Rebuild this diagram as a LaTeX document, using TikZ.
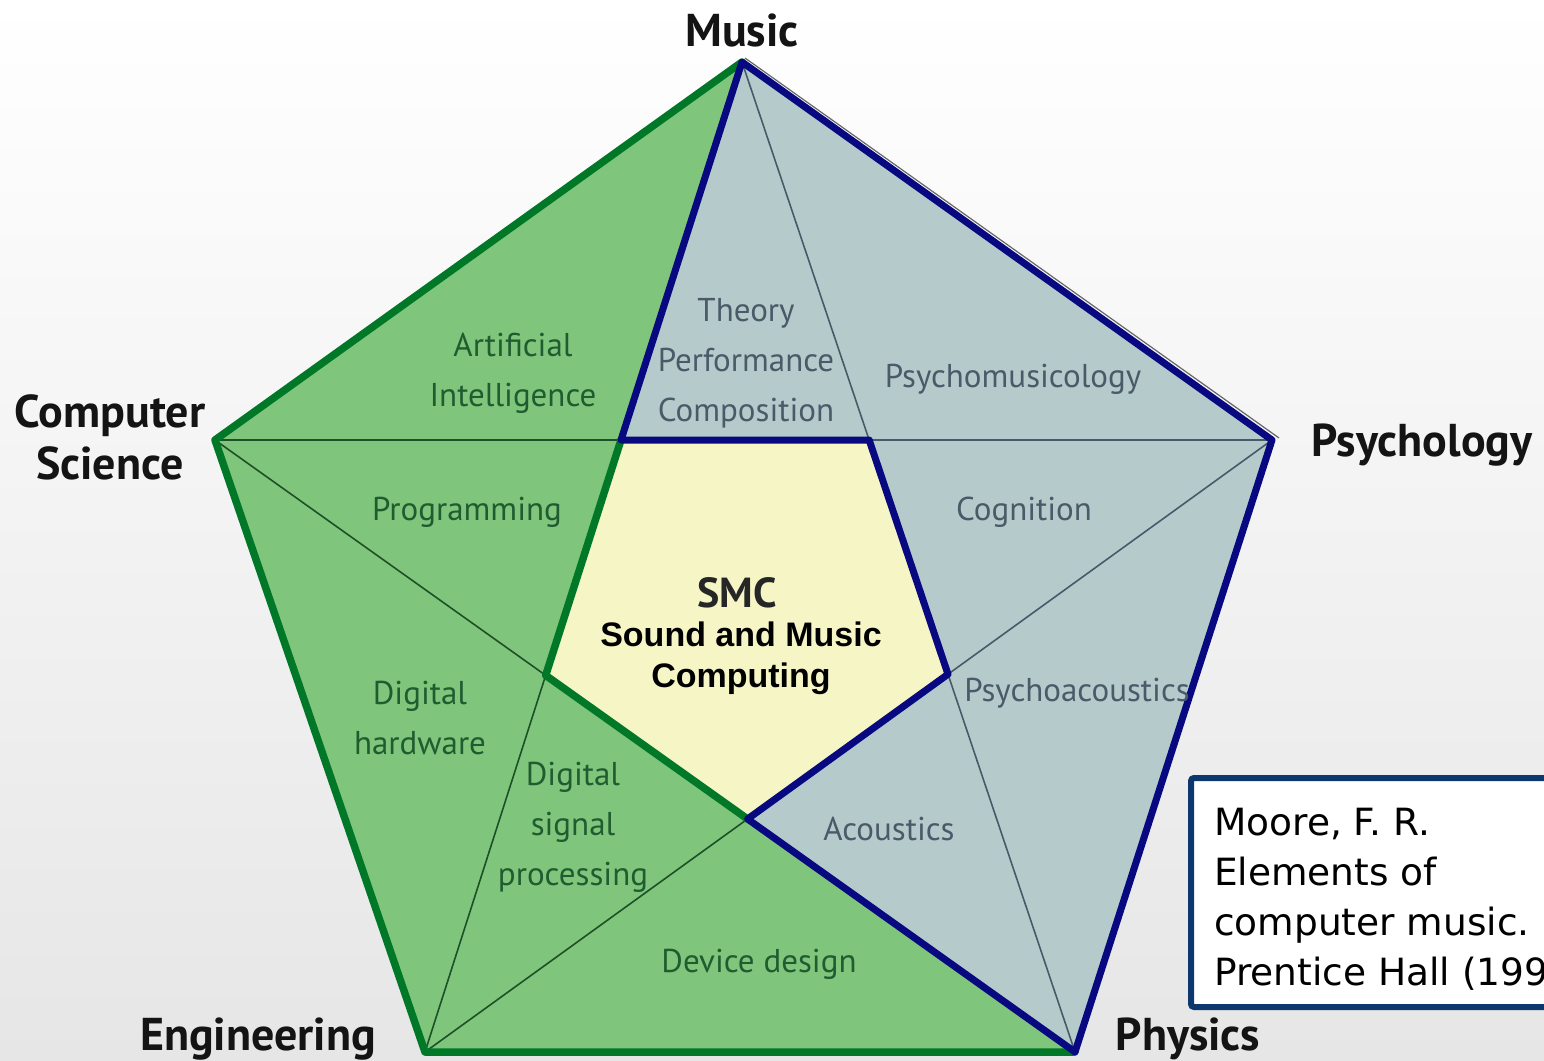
\documentclass[tikz,border=0pt]{standalone}
\usepackage{fontspec}
\setmainfont{PT Sans}
\newfontfamily\arialf{Liberation Sans}
\newfontfamily\citef{DejaVu Sans}
\definecolor{grnF}{RGB}{127,198,124}
\definecolor{grnB}{RGB}{0,120,40}
\definecolor{bluF}{RGB}{181,203,203}
\definecolor{navyB}{RGB}{8,8,128}
\definecolor{yelF}{RGB}{246,245,198}
\definecolor{gtext}{RGB}{32,92,48}
\definecolor{btext}{RGB}{75,90,105}
\definecolor{gthin}{RGB}{30,80,40}
\definecolor{bthin}{RGB}{70,90,105}
\definecolor{citeB}{RGB}{12,56,110}
\definecolor{bgB}{RGB}{230,230,230}
\begin{document}
\begin{tikzpicture}[x=1pt,y=-1pt,
  gborder/.style={draw=grnB,line width=7.5pt,line join=round,line cap=round},
  nborder/.style={draw=navyB,line width=7pt,line join=round},
  gline/.style={draw=gthin,line width=1.6pt},
  bline/.style={draw=bthin,line width=1.6pt},
  vlabel/.style={inner sep=0pt,align=center,text=black!92,font={\fontsize{46}{52}\selectfont\bfseries}},
  glabel/.style={inner sep=0pt,align=center,text=gtext,font={\fontsize{33}{50}\selectfont}},
  blabel/.style={inner sep=0pt,align=center,text=btext,font={\fontsize{33}{50}\selectfont}}]
\useasboundingbox (0,0) rectangle (1544,1060);
\shade[top color=white,bottom color=bgB] (0,0) rectangle (1544,1060);
% outer vertices
\coordinate (M) at (742,62);
\coordinate (C) at (215,440);
\coordinate (Y) at (1272,440);
\coordinate (E) at (425,1052);
\coordinate (P) at (1075,1052);
% inner vertices
\coordinate (P1) at (intersection of M--E and C--Y);
\coordinate (P2) at (intersection of M--P and C--Y);
\coordinate (P3) at (intersection of M--P and Y--E);
\coordinate (P4) at (intersection of Y--E and C--P);
\coordinate (P5) at (intersection of M--E and C--P);
% fills
\fill[grnF] (M)--(C)--(E)--(P)--(Y)--cycle;
\fill[bluF] (M)--(P1)--(P2)--(P3)--(P4)--(P)--(Y)--cycle;
\fill[yelF] (P1)--(P2)--(P3)--(P4)--(P5)--cycle;
% thin star lines
\draw[gline] (C)--(P1);
\draw[gline] (P5)--(E);
\draw[gline] (C)--(P5);
\draw[gline] (P4)--(E);
\draw[bline] (M)--(P2);
\draw[bline] (P2)--(Y);
\draw[bline] (P3)--(P);
\draw[bline] (Y)--(P3);
% borders
\draw[gborder] (P)--(E)--(C)--(M);
\draw[gborder] (P1)--(P5)--(P4);
\draw[black!60,line width=1.2pt] ([shift={(3,-4)}]M)--([shift={(7,-2)}]Y);
\draw[nborder] (M)--(P1)--(P2)--(P3)--(P4)--(P)--(Y)--cycle;
% vertex labels
\node[vlabel] (music) at (742,30) {Music};
\node[vlabel] (cs) at (110,437) {Computer\\Science};
\node[vlabel] (psy) at (1422,445) {Psychology};
\node[vlabel,anchor=base] (eng) at (258,1050) {Engineering};
\node[vlabel,anchor=base] (phy) at (1188,1050) {Physics};
% area labels
\node[glabel] (ai) at (513,373) {Artificial\\Intelligence};
\node[blabel] (tpc) at (746,363) {Theory\\Performance\\Composition};
\node[blabel] (pm) at (1013,379) {Psychomusicology};
\node[glabel] (prog) at (467,512) {Programming};
\node[blabel] (cog) at (1024,512) {Cognition};
\node[glabel] (dh) at (420,718) {Digital\\hardware};
\node[glabel] (dsp) at (573,827) {Digital\\signal\\processing};
\node[blabel] (pa) at (1077,693) {Psychoacoustics};
\node[blabel] (ac) at (889,829) {Acoustics};
\node[glabel] (dd) at (759,964) {Device design};
% center
\node[inner sep=0pt,text=black!85,font={\fontsize{42}{50}\selectfont\bfseries}] (smc) at (737,593) {SMC};
\node[inner sep=0pt,align=center,font={\arialf\bfseries\fontsize{34}{41}\selectfont}] (smcsub) at (741,658) {Sound and Music\\Computing};
% citation
\draw[draw=citeB,line width=6pt,fill=white,rounded corners=3pt] (1191,778) rectangle (1570,1007);
\node[inner sep=0pt,anchor=base west,align=left,font={\citef\fontsize{37.5}{50}\selectfont}] (cite) at (1214,985) {Moore, F. R.\\Elements of\\computer music.\\Prentice Hall (199};
\end{tikzpicture}
\end{document}
